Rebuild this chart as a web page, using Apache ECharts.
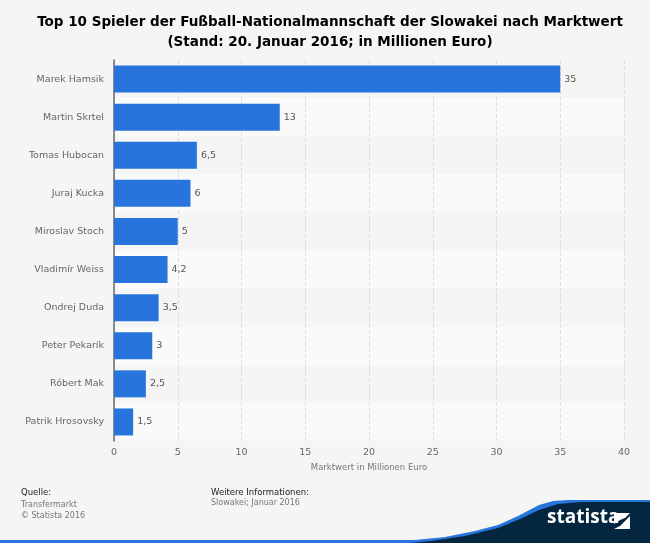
<!DOCTYPE html>
<html>
<head>
<meta charset="utf-8">
<style>html,body{margin:0;padding:0;background:#f5f5f5}#chart{width:650px;height:543px}</style>
<script src="https://cdn.jsdelivr.net/npm/echarts@6/dist/echarts.min.js"></script>
</head>
<body>
<div id="chart"></div>
<script>
var players = ['Marek Hamsik', 'Martin Skrtel', 'Tomas Hubocan', 'Juraj Kucka', 'Miroslav Stoch', 'Vladimír Weiss', 'Ondrej Duda', 'Peter Pekarík', 'Róbert Mak', 'Patrik Hrosovsky'];
var marketValues = [35, 13, 6.5, 6, 5, 4.2, 3.5, 3, 2.5, 1.5];
var titleLines = 'Top 10 Spieler der Fußball-Nationalmannschaft der Slowakei nach Marktwert\n(Stand: 20. Januar 2016; in Millionen Euro)';
var axisTitle = 'Marktwert in Millionen Euro';

var font = '"DejaVu Sans", sans-serif';
var chart = echarts.init(document.getElementById('chart'));

var option = {
	backgroundColor: '#f5f5f5',
	animation: false,
	title: {
		text: titleLines,
		left: 325,
		top: 7,
		textAlign: 'center',
		textStyle: { fontFamily: font, fontSize: 13.5, fontWeight: 'bold', color: '#000', lineHeight: 20 }
	},
	grid: { left: 114, top: 60, width: 510, height: 381 },
	xAxis: {
		type: 'value',
		min: 0,
		max: 40,
		interval: 5,
		name: axisTitle,
		nameLocation: 'middle',
		nameGap: 20,
		nameTextStyle: { fontFamily: font, fontSize: 8.5, color: '#777' },
		axisLine: { show: false },
		axisTick: { show: false },
		axisLabel: { fontFamily: font, fontSize: 9.5, color: '#666', margin: 7 },
		splitLine: { show: true, lineStyle: { color: '#dedede', type: 'dashed', width: 1 } }
	},
	yAxis: {
		type: 'category',
		inverse: true,
		data: players,
		axisLine: { show: true, lineStyle: { color: '#666', width: 1.5 } },
		axisTick: { show: false },
		axisLabel: { fontFamily: font, fontSize: 9.5, color: '#666', margin: 10 },
		splitArea: { show: true, areaStyle: { color: ['#f5f5f5', '#fafafa'] } }
	},
	series: [{
		type: 'bar',
		data: marketValues,
		barWidth: 27,
		itemStyle: { color: '#2775dc' },
		label: {
			show: true,
			position: 'right',
			distance: 4,
			fontFamily: font,
			fontSize: 9.5,
			color: '#555',
			formatter: function (p) { return String(p.value).replace('.', ','); }
		}
	}],
	graphic: [
		// footer swoosh and logo
		{ type: 'rect', shape: { x: 0, y: 540, width: 650, height: 3 }, style: { fill: '#2775dc' }, z: 5 },
		{ type: 'polygon', shape: { points: [[380, 543], [415, 540], [445, 537], [475, 531], [498, 525], [518, 516], [539, 505], [553, 501], [568, 500], [650, 500], [650, 543]] }, style: { fill: '#2775dc' }, z: 6 },
		{ type: 'polygon', shape: { points: [[410, 543], [431, 541], [465, 536], [498, 528], [520, 519], [539, 510], [558, 504], [581, 502], [650, 502], [650, 543]] }, style: { fill: '#04263f' }, z: 7 },
		{ type: 'text', left: 547, top: 508, style: { text: 'statista', font: 'bold 19px "Open Sans", sans-serif', fill: '#fff' }, z: 8 },
		{ type: 'polygon', shape: { points: [[614, 513], [630, 513], [625, 518], [620, 520], [614, 524]] }, style: { fill: '#fff' }, z: 8 },
		{ type: 'polygon', shape: { points: [[630, 516], [630, 529], [614, 529], [620, 526], [625, 521]] }, style: { fill: '#fff' }, z: 8 },
		{ type: 'text', left: 21, top: 488, style: { text: 'Quelle:', font: '8.5px ' + font, fill: '#222' } },
		{ type: 'text', left: 21, top: 499, style: { text: 'Transfermarkt\n© Statista 2016', font: '8px ' + font, fill: '#777', lineHeight: 11 } },
		{ type: 'text', left: 211, top: 488, style: { text: 'Weitere Informationen:', font: '8.5px ' + font, fill: '#222' } },
		{ type: 'text', left: 211, top: 499, style: { text: 'Slowakei; Januar 2016', font: '8px ' + font, fill: '#777' } }
	]
};
chart.setOption(option);
</script>
</body>
</html>
